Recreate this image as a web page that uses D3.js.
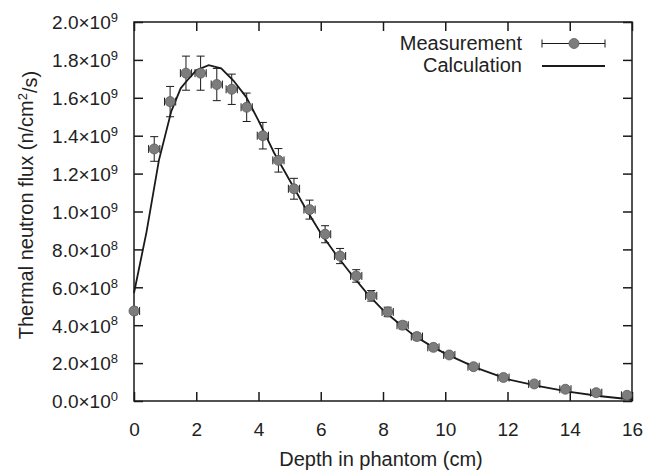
<!DOCTYPE html>
<html>
<head>
<meta charset="utf-8">
<script src="https://cdn.jsdelivr.net/npm/d3@7"></script>
<style>
  body { margin: 0; background: #fff; }
  text { font-family: "Liberation Sans", Arial, sans-serif; fill: #222; }
</style>
</head>
<body>
<div id="chart"></div>
<script>
// measured points (depth in cm, flux in 1e9 n/cm2/s)
const depth = [0, 0.65, 1.16, 1.67, 2.14, 2.66, 3.14, 3.62, 4.14, 4.64,
    5.14, 5.64, 6.14, 6.62, 7.14, 7.62, 8.15, 8.63, 9.09, 9.62,
    10.13, 10.91, 11.87, 12.86, 13.86, 14.85, 15.84];
const flux = [0.475, 1.33, 1.58, 1.73, 1.73, 1.67, 1.645, 1.55, 1.40, 1.27,
    1.12, 1.01, 0.88, 0.765, 0.66, 0.555, 0.47, 0.40, 0.34, 0.283,
    0.243, 0.181, 0.124, 0.09, 0.062, 0.044, 0.03];
const fluxErr = [0.02, 0.065, 0.08, 0.09, 0.09, 0.085, 0.08, 0.075, 0.07, 0.062,
    0.055, 0.05, 0.045, 0.04, 0.033, 0.028, 0.025, 0.02, 0.018, 0.015,
    0.013, 0.01, 0.008, 0.006, 0.004, 0.003, 0.002];
const depthErr = 0.18;

// calculation curve
const calcDepth = [0, 0.4, 0.8, 1.2, 1.5, 1.7, 2.0, 2.4, 2.8, 3.2, 3.6, 4.0, 4.5,
    5.0, 5.5, 6.0, 6.5, 7.0, 7.5, 8.0, 8.5, 9.0, 9.5, 10.0, 11.0, 12.0, 13.0, 14.0, 15.0, 16.0];
const calcFlux = [0.57, 0.89, 1.27, 1.53, 1.65, 1.69, 1.745, 1.772, 1.755, 1.69, 1.605, 1.48, 1.31,
    1.165, 1.02, 0.885, 0.77, 0.665, 0.565, 0.48, 0.41, 0.345, 0.295, 0.25, 0.175, 0.115, 0.078, 0.048, 0.025, 0.008];

const xTicks = [0, 2, 4, 6, 8, 10, 12, 14, 16];
const yTicks = [0, 0.2, 0.4, 0.6, 0.8, 1.0, 1.2, 1.4, 1.6, 1.8, 2.0];
const yTickMantissa = ["0.0", "2.0", "4.0", "6.0", "8.0", "1.0", "1.2", "1.4", "1.6", "1.8", "2.0"];
const yTickExp = ["0", "8", "8", "8", "8", "9", "9", "9", "9", "9", "9"];

const w = 650, h = 471;
const margin = {top: 22, right: 18, bottom: 70, left: 134};
const pw = w - margin.left - margin.right;
const ph = h - margin.top - margin.bottom;
const ink = "#1a1a1a";

const svg = d3.select("#chart").append("svg")
    .attr("width", w)
    .attr("height", h);

const xScale = d3.scaleLinear().domain([0, 16]).range([0, pw]);
const yScale = d3.scaleLinear().domain([0, 2.0]).range([ph, 0]);

const g = svg.append("g")
    .attr("transform", "translate(" + margin.left + "," + margin.top + ")");

g.append("clipPath").attr("id", "clip")
    .append("rect").attr("width", pw).attr("height", ph);

// axes, ticks pointing inward
const xAxis = d3.axisBottom(xScale).tickValues(xTicks).tickSizeInner(-9).tickSizeOuter(0).tickPadding(22);
const yAxis = d3.axisLeft(yScale).tickValues(yTicks).tickSizeInner(-9).tickSizeOuter(0).tickPadding(16)
    .tickFormat(() => "");
const topAxis = d3.axisTop(xScale).tickValues(xTicks).tickSizeInner(-9).tickSizeOuter(0).tickFormat(() => "");
const rightAxis = d3.axisRight(yScale).tickValues(yTicks).tickSizeInner(-9).tickSizeOuter(0).tickFormat(() => "");

const gx = g.append("g").attr("transform", "translate(0," + ph + ")").call(xAxis);
const gy = g.append("g").call(yAxis);
g.append("g").call(topAxis);
g.append("g").attr("transform", "translate(" + pw + ",0)").call(rightAxis);

g.selectAll(".domain").remove();
g.selectAll(".tick line").attr("stroke", ink).attr("stroke-width", 1.5);
gx.selectAll("text").style("font-size", "19px").attr("fill", "#222");

// y labels like 2.0x10^9
gy.selectAll(".tick text").each(function (d, i) {
    const t = d3.select(this).style("font-size", "19px").attr("dy", "0.36em");
    t.append("tspan").text(yTickMantissa[i] + "\u00d710");
    t.append("tspan").attr("dy", "-0.55em").style("font-size", "13px").text(yTickExp[i]);
});

// frame
g.append("rect")
    .attr("width", pw).attr("height", ph)
    .attr("fill", "none").attr("stroke", ink).attr("stroke-width", 1.5);

// calculation line
const line = d3.line()
    .x(function (d) { return xScale(d[0]); })
    .y(function (d) { return yScale(d[1]); });
g.append("path")
    .datum(calcDepth.map((x, i) => [x, calcFlux[i]]))
    .attr("d", line)
    .attr("fill", "none")
    .attr("stroke", ink)
    .attr("stroke-width", 1.8);

// measurement error bars
const pts = depth.map((x, i) => ({x: x, y: flux[i], e: fluxErr[i]}));
const cap = 4;
const bars = g.append("g").attr("clip-path", "url(#clip)")
    .attr("stroke", ink).attr("stroke-width", 1);
pts.forEach(function (d) {
    const cx = xScale(d.x), cy = yScale(d.y);
    const y0 = yScale(d.y - d.e), y1 = yScale(d.y + d.e);
    const x0 = xScale(d.x - depthErr), x1 = xScale(d.x + depthErr);
    bars.append("line").attr("x1", cx).attr("x2", cx).attr("y1", y0).attr("y2", y1);
    bars.append("line").attr("x1", cx - cap).attr("x2", cx + cap).attr("y1", y0).attr("y2", y0);
    bars.append("line").attr("x1", cx - cap).attr("x2", cx + cap).attr("y1", y1).attr("y2", y1);
    bars.append("line").attr("x1", x0).attr("x2", x1).attr("y1", cy).attr("y2", cy);
    bars.append("line").attr("x1", x0).attr("x2", x0).attr("y1", cy - cap).attr("y2", cy + cap);
    bars.append("line").attr("x1", x1).attr("x2", x1).attr("y1", cy - cap).attr("y2", cy + cap);
});

g.selectAll("circle.pt")
    .data(pts)
    .enter()
    .append("circle")
    .attr("class", "pt")
    .attr("cx", function (d) { return xScale(d.x); })
    .attr("cy", function (d) { return yScale(d.y); })
    .attr("r", 5)
    .attr("fill", "#7d7d7d")
    .attr("stroke", "#5a5a5a")
    .attr("stroke-width", 0.8);

// legend
const leg = svg.append("g");
leg.append("text").attr("x", 522).attr("y", 50).attr("text-anchor", "end")
    .style("font-size", "20px").text("Measurement");
leg.append("text").attr("x", 522).attr("y", 72).attr("text-anchor", "end")
    .style("font-size", "20px").text("Calculation");
const lx0 = 542, lx1 = 605, ly = 43.5;
leg.append("line").attr("x1", lx0).attr("x2", lx1).attr("y1", ly).attr("y2", ly).attr("stroke", ink).attr("stroke-width", 1);
leg.append("line").attr("x1", lx0).attr("x2", lx0).attr("y1", ly - cap).attr("y2", ly + cap).attr("stroke", ink).attr("stroke-width", 1);
leg.append("line").attr("x1", lx1).attr("x2", lx1).attr("y1", ly - cap).attr("y2", ly + cap).attr("stroke", ink).attr("stroke-width", 1);
leg.append("circle").attr("cx", 574).attr("cy", ly).attr("r", 5)
    .attr("fill", "#7d7d7d").attr("stroke", "#5a5a5a").attr("stroke-width", 0.8);
leg.append("line").attr("x1", lx0).attr("x2", lx1).attr("y1", 66).attr("y2", 66).attr("stroke", ink).attr("stroke-width", 1.8);

// axis titles
svg.append("text")
    .attr("x", 381)
    .attr("y", 466)
    .attr("text-anchor", "middle")
    .style("font-size", "20px")
    .text("Depth in phantom (cm)");
const yt = svg.append("text")
    .attr("transform", "translate(33," + 205 + ") rotate(-90)")
    .attr("text-anchor", "middle")
    .style("font-size", "20px");
yt.append("tspan").text("Thermal neutron flux (n/cm");
yt.append("tspan").attr("dy", "-0.5em").style("font-size", "13px").text("2");
yt.append("tspan").attr("dy", "0.5em").text("/s)");
</script>
</body>
</html>
